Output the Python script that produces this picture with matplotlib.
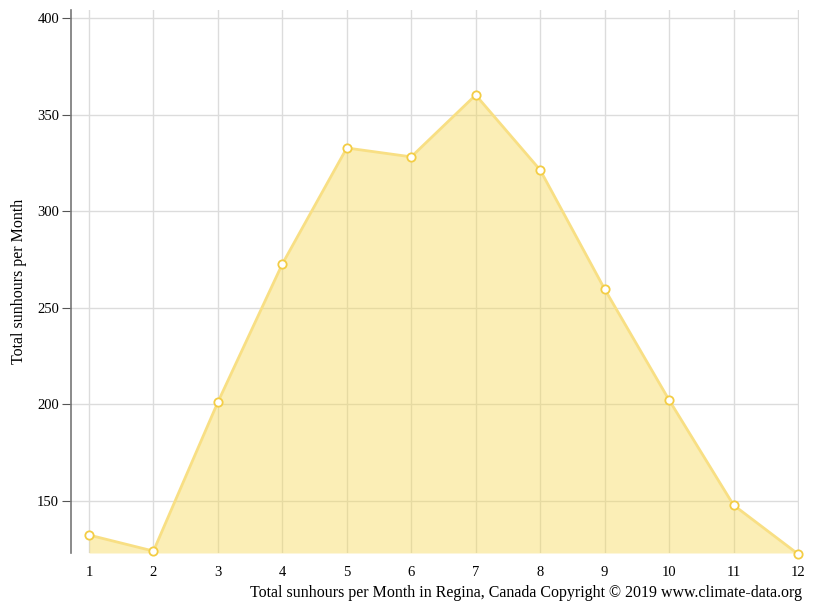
import matplotlib.pyplot as plt
import numpy as np

months = [1, 2, 3, 4, 5, 6, 7, 8, 9, 10, 11, 12]
sunhours = [132.4, 124.1, 201.2, 272.7, 332.7, 328.1, 360.1, 321.3, 259.7, 202.3, 147.9, 122.6]
yticks = [150, 200, 250, 300, 350, 400]

plt.rcParams['font.family'] = ['Liberation Serif', 'DejaVu Serif']

fig = plt.figure(figsize=(8.15, 6.11), dpi=100)
ax = fig.add_axes([71 / 815, 58 / 611, 728 / 815, 543 / 611])

ax.set_xlim(0.7207, 12.016)
ax.set_ylim(123.1, 404.1)

# grid
ax.set_xticks(months)
ax.set_yticks(yticks)
ax.grid(True, color='#dcdcdc', linewidth=1)
ax.set_axisbelow(True)

ax.fill_between(months, sunhours, 123.1, color='#f6d852', alpha=0.42, linewidth=0, zorder=2)
ax.plot(months, sunhours, color='#f8df84', linewidth=2, zorder=3)
ax.plot(months, sunhours, 'o', markersize=6, markerfacecolor='white',
        markeredgecolor='#f3cd45', markeredgewidth=1.3, zorder=4, clip_on=False)

for s in ['top', 'right', 'bottom']:
    ax.spines[s].set_visible(False)
ax.spines['left'].set_color('#777777')
ax.spines['left'].set_linewidth(1.2)

ax.tick_params(axis='y', length=6.5, color='#555555', labelsize=10.5, pad=2)
ax.tick_params(axis='x', length=0, labelsize=10.5, pad=9)

ax.set_ylabel('Total sunhours per Month', fontsize=11.5)
ax.yaxis.set_label_coords(-44 / 728, 0.5)
fig.text(802 / 815, 1 - 593 / 611, 'Total sunhours per Month in Regina, Canada Copyright © 2019 www.climate-data.org',
         ha='right', va='center', fontsize=11.5)

fig.savefig('out.png', dpi=100)
